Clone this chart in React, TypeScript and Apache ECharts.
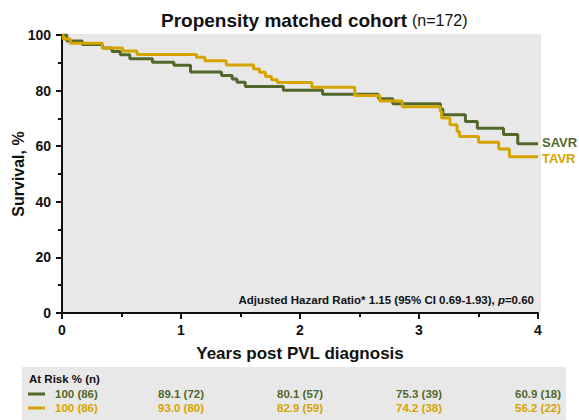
import React, { useEffect, useRef } from "react";
import * as echarts from "echarts";

// Kaplan-Meier step data (years, survival %)
const savrTimes = [0, 0.04, 0.17, 0.34, 0.42, 0.49, 0.57, 0.76, 0.94, 1.08, 1.34, 1.43, 1.47, 1.54, 1.86, 2.19, 2.66, 2.78, 3.18, 3.2, 3.39, 3.49, 3.71, 3.83, 4.0];
const savrSurv = [100, 97.8, 96.6, 95.3, 94.1, 92.9, 91.5, 90.2, 89.1, 86.7, 85.4, 84.2, 83.0, 81.5, 80.1, 78.7, 77.1, 75.3, 73.4, 71.3, 68.9, 66.5, 64.2, 60.9, 60.9];

const tavrTimes = [0, 0.01, 0.07, 0.34, 0.51, 0.63, 1.13, 1.2, 1.38, 1.61, 1.66, 1.71, 1.76, 1.81, 2.1, 2.46, 2.67, 2.86, 3.18, 3.19, 3.26, 3.32, 3.34, 3.5, 3.67, 3.76, 4.0];
const tavrSurv = [100, 98.6, 97.0, 95.3, 94.2, 93.0, 92.0, 90.7, 89.2, 87.8, 86.6, 85.1, 83.9, 82.9, 81.2, 78.2, 76.3, 74.2, 72.5, 70.1, 67.7, 65.3, 63.5, 61.4, 59.0, 56.2, 56.2];

const atRiskYears = [0, 1, 2, 3, 4];
const savrAtRisk = ["100 (86)", "89.1 (72)", "80.1 (57)", "75.3 (39)", "60.9 (18)"];
const tavrAtRisk = ["100 (86)", "93.0 (80)", "82.9 (59)", "74.2 (38)", "56.2 (22)"];

const GREEN = "#52682b";
const GOLD = "#d6a400";
const FONT = "Arial, 'Liberation Sans', sans-serif";

const GRID = { left: 62, right: 41, top: 35, bottom: 107 };
const W = 579;
const H = 420;

export default function App() {
  const ref = useRef<HTMLDivElement>(null);
  useEffect(() => {
    if (!ref.current) return;
    const chart = echarts.init(ref.current, undefined, { renderer: "svg" });
    const plotW = W - GRID.left - GRID.right;
    const colX = (yr: number) => GRID.left + (yr / 4) * plotW;

    const tableTexts: any[] = [];
    atRiskYears.forEach((yr, i) => {
      const first = i === 0;
      const x = first ? 55 : colX(yr);
      const align = first ? "left" : "center";
      tableTexts.push({
        type: "text",
        x,
        y: 394,
        style: { text: savrAtRisk[i], fill: GREEN, font: `bold 11.5px ${FONT}`, textAlign: align, textVerticalAlign: "middle" },
      });
      tableTexts.push({
        type: "text",
        x,
        y: 408,
        style: { text: tavrAtRisk[i], fill: GOLD, font: `bold 11.5px ${FONT}`, textAlign: align, textVerticalAlign: "middle" },
      });
    });

    const option: any = {
      animation: false,
      backgroundColor: "#ffffff",
      title: {
        text: "{a|Propensity matched cohort} {b|(n=172)}",
        left: 156,
        top: 6,
        textStyle: {
          rich: {
            a: { fontFamily: FONT, fontWeight: "bold", fontSize: 19, color: "#111" },
            b: { fontFamily: FONT, fontWeight: "normal", fontSize: 16, color: "#111" },
          },
        },
      },
      grid: { ...GRID, outerBoundsMode: "none", containLabel: false, show: false },
      xAxis: {
        type: "value",
        min: 0,
        max: 4,
        interval: 1,
        name: "Years post PVL diagnosis",
        nameLocation: "middle",
        nameGap: 32,
        nameMoveOverlap: false,
        nameTextStyle: { fontFamily: FONT, fontWeight: "bold", fontSize: 17, color: "#111", verticalAlign: "top" },
        axisLine: { lineStyle: { color: "#111", width: 2 } },
        axisTick: { show: true, length: 6, lineStyle: { color: "#111", width: 2 } },
        minorTick: { show: true, splitNumber: 2, length: 4, lineStyle: { color: "#111", width: 2 } },
        splitLine: { show: false },
        axisLabel: { fontFamily: FONT, fontWeight: "bold", fontSize: 14, color: "#111", margin: 10 },
      },
      yAxis: {
        type: "value",
        min: 0,
        max: 100,
        interval: 20,
        name: "Survival, %",
        nameLocation: "middle",
        nameGap: 36,
        nameMoveOverlap: false,
        nameTextStyle: { fontFamily: FONT, fontWeight: "bold", fontSize: 16, color: "#111" },
        axisLine: { show: true, lineStyle: { color: "#111", width: 2 } },
        axisTick: { show: true, length: 6, lineStyle: { color: "#111", width: 2 } },
        minorTick: { show: true, splitNumber: 2, length: 4, lineStyle: { color: "#111", width: 2 } },
        splitLine: { show: false },
        axisLabel: { fontFamily: FONT, fontWeight: "bold", fontSize: 14, color: "#111", margin: 11 },
      },
      series: [
        {
          name: "SAVR",
          type: "line",
          step: "end",
          showSymbol: false,
          symbol: "none",
          data: savrTimes.map((t, i) => [t, savrSurv[i]]),
          lineStyle: { color: GREEN, width: 3 },
          itemStyle: { color: GREEN },
          endLabel: { show: true, formatter: "{a}", color: GREEN, fontFamily: FONT, fontWeight: "bold", fontSize: 13, lineHeight: 13, distance: 4, offset: [0, -1] },
          z: 2,
        },
        {
          name: "TAVR",
          type: "line",
          step: "end",
          showSymbol: false,
          symbol: "none",
          data: tavrTimes.map((t, i) => [t, tavrSurv[i]]),
          lineStyle: { color: GOLD, width: 3 },
          itemStyle: { color: GOLD },
          endLabel: { show: true, formatter: "{a}", color: GOLD, fontFamily: FONT, fontWeight: "bold", fontSize: 13, lineHeight: 13, distance: 4, offset: [0, 2] },
          z: 3,
        },
      ],
      graphic: [
        {
          type: "rect",
          shape: { x: 62, y: 34, width: 479, height: 279 },
          style: { fill: "#e8e8e8" },
          z: -10,
        },
        {
          type: "text",
          x: 534,
          y: 300,
          style: {
            text: "{b|Adjusted Hazard Ratio* 1.15 (95% CI 0.69-1.93), }{i|p}{b|=0.60}",
            textAlign: "right",
            textVerticalAlign: "middle",
            rich: {
              b: { fontFamily: FONT, fontWeight: "bold", fontSize: 11.5, fill: "#111" },
              i: { fontFamily: FONT, fontWeight: "bold", fontStyle: "italic", fontSize: 11.5, fill: "#111" },
            },
          },
          z: 10,
        },
        {
          type: "rect",
          shape: { x: 22, y: 367, width: 544, height: 53 },
          style: { fill: "#e8e8e8" },
          z: -10,
        },
        {
          type: "text",
          x: 29,
          y: 379,
          style: { text: "At Risk % (n)", fill: "#111", font: `bold 11.5px ${FONT}`, textVerticalAlign: "middle" },
        },
        {
          type: "rect",
          shape: { x: 28, y: 392.5, width: 17, height: 3 },
          style: { fill: GREEN },
        },
        {
          type: "rect",
          shape: { x: 28, y: 406.5, width: 17, height: 3 },
          style: { fill: GOLD },
        },
        ...tableTexts,
      ],
    };
    chart.setOption(option);
    return () => chart.dispose();
  }, []);
  return <div ref={ref} style={{ position: "fixed", left: 0, top: 0, width: W, height: H }} />;
}
